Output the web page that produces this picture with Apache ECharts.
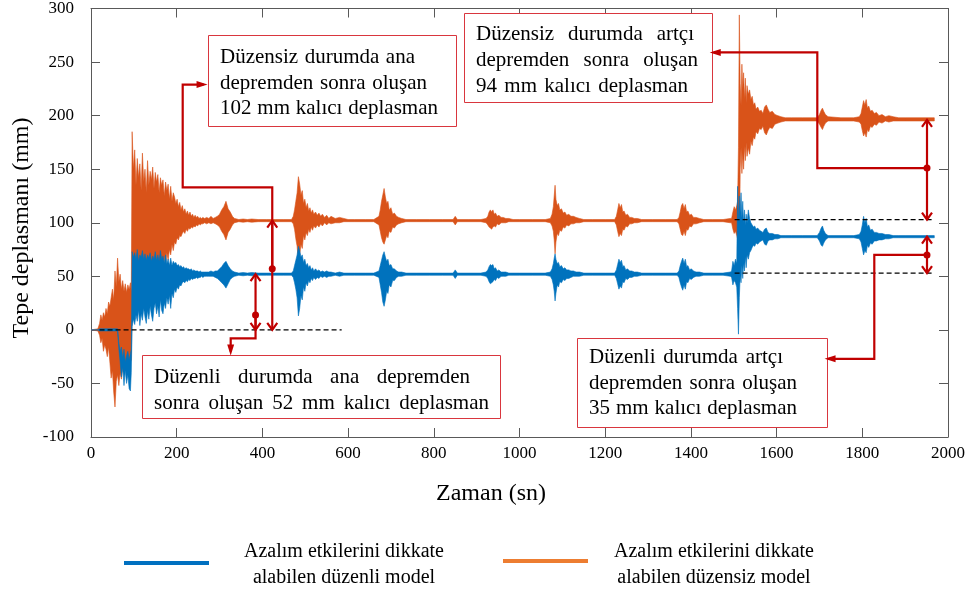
<!DOCTYPE html>
<html><head><meta charset="utf-8">
<script src="https://cdn.jsdelivr.net/npm/echarts/dist/echarts.min.js"></script>
<style>html,body{margin:0;padding:0;background:#fff}#c{width:968px;height:598px}</style>
</head><body><div id="c"></div>
<script>
// ---------- DATA (envelope of the oscillating records) ----------
const timeSec = [
  0,16,20,23,26,29,32,35,38,41, 44,47,50,53,56,59,62,65,68,71, 74,77,80,83,86,89,92,94,
  96,99,102,105,108,111,114,117,120,123,
  126,129,132,135,138,141,144,147,150,153,
  156,159,162,165,168,171,174,177,180,183,
  186,189,192,195,198,201,204,207,210,213,
  216,219,222,225,228,231,234,237,240,243,
  246,249,252,255,258,261,265,270,275,280,
  285,290,295,300,305,310,315,320,325,330,
  335,345,355,365,375,390,410,430,450,468,
  472,475,478,481,484,487,490,493,496,499,
  502,505,508,511,514,517,520,524,528,532,
  536,540,545,550,555,560,570,580,590,600,
  615,640,660,
  672,675,678,681,684,687,690,693,696,700, 704,708,713,718,725,735,
  760,790,820,845,850,855,880,910,922,
  926,929,932,935,938,941,944,948,952,957, 962,968,975,985,
  1000,1030,1060,1072,
  1076,1079,1081,1083,1085,1088,1091,1094,1098,1102, 1106,1110,1115,1120,1126,1132,1140,1150,
  1170,1200,1222,
  1226,1229,1232,1235,1238,1241,1244,1248,1252,1257, 1262,1268,1275,1285,
  1310,1340,1368,
  1372,1375,1378,1381,1384,1387,1390,1393,1397,1401, 1406,1412,1420,1430,
  1450,1475,1492,
  1495,1498,1501,1504,1507,1509,1511,1513,1515,1517,
  1519,1521,1523,1525,1527,1529,1531,1534,1537,1540,
  1543,1546,1549,1552,1556,1560,1564,1568,1572,1576,
  1580,1584,1590,1596,1603,1610,1620,1635,
  1660,1695,1700,1704,1707,1710,1714,1720,1750,1780,1793,
  1797,1800,1803,1806,1809,1812,1815,1819,1823,1828, 1833,1839,1846,1854,1862,1872,1885,1900,1930,1968
];
// irregular model (düzensiz) – upper / lower envelope, mm
const orangeHi = [
  0,1,6,14,9,16,12,20,15,26, 22,30,38,28,55,40,67,45,52,38, 46,36,43,35,42,38,44,36,
  185,150,168,135,160,142,155,130,165,138,
  150,128,158,135,148,140,152,132,147,138,
  145,128,142,135,140,125,138,130,136,122,
  134,120,128,124,118,122,115,119,112,116,
  110,113,108,111,107,110,106,108,105,107,
  105,106,104,105,104,105,104,105,104,106,
  104,105,106,108,112,115,120,113,110,106,
  104,103,103.5,103,103.5,103,103,103,103,103,
  106,112,120,128,143,136,126,130,118,122,
  114,118,111,114,109,112,108,110,107,109,
  106,108,105,107,104,106,104,105,104,103,
  103,103,103,
  106,112,120,126,132,124,118,120,112,114, 108,109,106,105,104,103,
  103,103,103,103,106,103,103,103,104,
  106,110,112,110,112,108,109,106,107,105, 105,104,104,103,
  103,103,103,104,
  108,115,125,135,122,116,118,112,113,109, 110,107,108,106,106,105,104,103,
  103,103,103,
  106,112,118,114,117,110,111,107,108,105, 105,104,104,103,
  103,103,103,
  105,110,116,118,113,117,110,111,107,108, 105,105,104,103,
  103,103,104,
  104,110,115,112,116,120,170,294,230,210,
  248,225,240,215,235,212,228,220,224,215,
  218,210,212,206,208,204,205,202,208,210,
  206,203,204,201,200,199,198,198,
  198,198,201,205,207,204,201,199,198,198,199,
  202,208,214,210,215,207,209,204,205,202, 203,200,201,199,200,199,198,198,198,198
];
const orangeLo = [
  0,-1,-5,-12,-8,-20,-14,-18,-25,-16, -30,-45,-38,-58,-72,-48,-42,-52,-40,-46, -35,-38,-30,-36,-32,-35,-30,-28,
  20,45,10,35,18,40,25,48,30,42,
  38,55,35,50,40,58,45,60,48,55,
  52,62,50,65,58,68,60,72,65,75,
  70,80,74,82,80,86,84,88,87,90,
  92,90,94,92,95,94,96,95,97,96,
  98,97,99,98,99,99,100,99,100,99,
  100,99,98,96,92,89,84,91,94,98,
  100,101,100.5,101,100.5,101,101,101,101,101,
  99,94,85,78,64,70,80,76,88,84,
  91,88,94,91,96,93,97,95,98,96,
  99,97,100,98,100,99,100,100,101,101,
  101,101,101,
  98,92,86,82,80,84,88,86,92,91, 96,95,98,99,100,101,
  101,101,101,101,98,101,101,101,100,
  98,96,95,94,96,97,96,99,98,100, 100,100,101,101,
  101,101,101,100,
  97,92,84,71,82,90,88,93,92,96, 95,98,97,99,99,100,100,101,
  101,101,101,
  98,92,87,90,88,94,93,97,96,99, 99,100,100,101,
  101,101,101,
  99,94,89,88,92,88,94,93,97,96, 99,99,100,101,
  101,101,100,
  100,94,90,92,88,85,60,45,150,170,
  146,165,150,172,158,175,162,170,164,176,
  172,180,178,185,183,188,187,190,184,182,
  186,189,188,192,193,194,195,195,
  195,195,192,189,187,190,193,195,195,195,194,
  192,186,181,184,180,187,185,190,189,192, 191,194,193,195,194,195,195,195,195,195
];
// regular model (düzenli) – upper / lower envelope, mm
const blueHi = [
  0,0,1,1,1,1,1,1,1,1, 1,1,1,1,1,1,1,-12,-20,-16, -26,-18,-30,-24,-20,-28,-22,-18,
  73,68,72,66,75,64,70,68,74,66,
  71,65,70,67,72,64,69,66,73,65,
  70,64,74,66,69,63,70,62,66,60,
  67,60,64,62,63,60,61,59,60,58,
  59,57,58,57,57,56,57,55,56,55,
  55,55,54,55,54,54,54,54,54,55,
  54,55,55,57,59,62,64,60,57,55,
  54,53,53.5,53,53.5,53,53,53,53,53,
  55,60,65,70,78,74,68,70,63,66,
  60,62,58,60,56,58,55,57,55,56,
  54,55,54,55,54,54,53,54,53,53,
  53,53,53,
  55,60,65,70,73,68,64,66,60,61, 57,57,55,54,54,53,
  53,53,53,53,56,53,53,53,54,
  56,59,61,60,61,57,58,55,56,54, 54,54,53,53,
  53,53,53,54,
  57,62,67,71,66,62,63,59,60,57, 58,56,56,55,55,54,54,53,
  53,53,53,
  56,61,66,63,65,59,60,56,57,55, 55,54,54,53,
  53,53,53,
  55,60,64,67,62,66,59,60,56,57, 55,54,54,53,
  53,53,54,
  55,64,60,66,62,134,100,125,110,128,
  105,120,100,112,98,108,100,112,104,100,
  98,96,97,94,95,93,92,91,94,95,
  91,90,90,89,89,88,88,88,
  88,88,91,95,97,93,90,88,88,88,89,
  92,98,106,100,104,96,98,93,94,91, 91,90,90,89,89,88,88,88,88,88
];
const blueLo = [
  0,0,-1,-1,-1,-1,-1,-1,-1,-1, -1,-1,-1,-1,-1,-1,-1,-18,-30,-44, -35,-52,-38,-50,-42,-55,-57,-40,
  3,10,5,14,8,18,4,15,9,20,
  12,6,18,10,22,14,8,20,25,15,
  22,12,28,18,15,25,20,30,24,32,
  20,34,30,38,35,40,38,42,41,44,
  45,44,46,45,47,46,48,47,48,48,
  49,48,49,49,50,49,50,50,50,50,
  50,49,48,46,44,42,39,43,47,49,
  50,51,50.5,51,50.5,51,51,51,51,51,
  49,44,38,30,13,20,32,28,40,36,
  44,41,46,44,48,46,49,47,49,48,
  50,49,50,49,50,50,51,50,51,51,
  51,51,51,
  49,42,35,26,22,28,36,34,42,40, 46,46,49,50,50,51,
  51,51,51,51,48,51,51,51,50,
  48,45,43,44,45,47,46,49,48,50, 50,50,51,51,
  51,51,51,50,
  47,42,36,27,34,42,40,45,44,47, 46,48,48,49,50,50,50,51,
  51,51,51,
  48,43,38,41,39,45,44,48,47,49, 49,50,50,51,
  51,51,51,
  49,44,40,37,42,38,45,44,48,47, 49,50,50,51,
  51,51,50,
  49,42,46,44,40,20,-4,30,50,44,
  60,48,62,55,68,58,70,66,72,74,
  77,79,78,81,80,82,83,84,80,79,
  83,84,84,85,85,86,86,86,
  86,86,83,79,78,81,84,86,86,86,85,
  82,76,70,74,72,79,77,81,80,83, 83,84,84,85,85,86,86,86,86,86
];
// dashed reference lines
const zeroRefT = [20, 585], zeroRefV = [0, 0];
const orangeRefT = [1502, 1968], orangeRefV = [103, 103];
const blueRefT = [1502, 1968], blueRefV = [53, 53];
const xTicks = {min: 0, max: 2000, step: 200};
const yTicks = {min: -100, max: 300, step: 50};

// ---------- CHART ----------
const FONT = '"Liberation Serif", "Times New Roman", serif';
const ORANGE = '#D95319', BLUE = '#0072BD', RED = '#C00000';
const chart = echarts.init(document.getElementById('c'), null, {renderer: 'canvas'});

function band(name, color, hi, lo) {
  return {
    type: 'custom', name: name, silent: true, animation: false,
    xAxisIndex: 0, yAxisIndex: 0,
    data: timeSec.map((t, i) => [t, hi[i], lo[i]]),
    encode: {x: 0, y: [1, 2]},
    renderItem: function (params, api) {
      if (params.dataIndex !== 0) return null;
      const pts = [];
      for (let i = 0; i < timeSec.length; i++) pts.push(api.coord([timeSec[i], hi[i]]));
      for (let i = timeSec.length - 1; i >= 0; i--) pts.push(api.coord([timeSec[i], lo[i]]));
      return {type: 'polygon', shape: {points: pts},
        style: {fill: color, stroke: color, lineWidth: 0.6, lineJoin: 'round'}};
    }
  };
}
function dashed(ts, vs) {
  return {type: 'line', xAxisIndex: 0, yAxisIndex: 0, symbol: 'none', silent: true, z: 5,
    data: ts.map((t, i) => [t, vs[i]]),
    lineStyle: {color: '#000', width: 1.3, type: [5, 3]}};
}
const axLine = {color: '#595959', width: 1};
function xAx(pos, lab) {
  return {type: 'value', position: pos, min: xTicks.min, max: xTicks.max, interval: xTicks.step,
    axisLine: {show: true, onZero: false, lineStyle: axLine},
    axisTick: {show: true, inside: true, length: 9, lineStyle: axLine},
    axisLabel: {show: lab, fontFamily: FONT, fontSize: 17, color: '#000', margin: 8,
      formatter: v => String(v)},
    splitLine: {show: false}};
}
function yAx(pos, lab) {
  return {type: 'value', position: pos, min: yTicks.min, max: yTicks.max, interval: yTicks.step,
    axisLine: {show: true, onZero: false, lineStyle: axLine},
    axisTick: {show: true, inside: true, length: 9, lineStyle: axLine},
    axisLabel: {show: lab, fontFamily: FONT, fontSize: 17, color: '#000', margin: 17,
      formatter: v => String(v)},
    splitLine: {show: false}};
}
chart.setOption({
  animation: false,
  backgroundColor: '#fff',
  grid: {left: 91, right: 17, top: 6, bottom: 161},
  xAxis: [xAx('bottom', true), xAx('top', false)],
  yAxis: [yAx('left', true), yAx('right', false)],
  series: [
    band('Azalım etkilerini dikkate alabilen düzensiz model', ORANGE, orangeHi, orangeLo),
    band('Azalım etkilerini dikkate alabilen düzenli model', BLUE, blueHi, blueLo),
    dashed(zeroRefT, zeroRefV), dashed(orangeRefT, orangeRefV), dashed(blueRefT, blueRefV)
  ]
});

// ---------- ANNOTATIONS ----------
const P = (t, v) => chart.convertToPixel({xAxisIndex: 0, yAxisIndex: 0}, [t, v]);
const g = [];
function poly(points) {
  g.push({type: 'polyline', z: 100, shape: {points: points},
    style: {stroke: RED, lineWidth: 2.2, fill: null, lineJoin: 'miter'}});
}
function doubleArrow(t, vTop, vBot, vDot) {
  const a = P(t, vTop), b = P(t, vBot), d = P(t, vDot);
  poly([a, b]);
  poly([[a[0] - 5, a[1] + 7], a, [a[0] + 5, a[1] + 7]]);
  poly([[b[0] - 5, b[1] - 7], b, [b[0] + 5, b[1] - 7]]);
  g.push({type: 'circle', z: 101, shape: {cx: d[0], cy: d[1], r: 3.5}, style: {fill: RED}});
}
function leader(pts) {
  const px = pts.map(p => P(p[0], p[1]));
  const e = px[px.length - 1], s = px[px.length - 2];
  const dx = e[0] - s[0], dy = e[1] - s[1], L = Math.hypot(dx, dy), ux = dx / L, uy = dy / L;
  const bx = e[0] - ux * 11, by = e[1] - uy * 11;
  px[px.length - 1] = [e[0] - ux * 4, e[1] - uy * 4];
  poly(px);
  g.push({type: 'polygon', z: 101,
    shape: {points: [e, [bx - uy * 3.5, by + ux * 3.5], [bx + uy * 3.5, by - ux * 3.5]]},
    style: {fill: RED}});
}
doubleArrow(423, 102, 0, 57);
leader([[423, 57], [423, 133], [214, 133], [214, 229], [272, 229]]);
doubleArrow(384, 52, 0, 14);
leader([[384, 14], [384, -8], [326, -8], [326, -24]]);
doubleArrow(1951, 196, 103, 151);
leader([[1951, 151], [1695, 151], [1695, 259], [1444, 259]]);
doubleArrow(1951, 87, 53, 70);
leader([[1951, 70], [1828, 70], [1828, -27], [1712, -27]]);

const BOXFONT = '21px ' + FONT;
const mctx = document.createElement('canvas').getContext('2d');
function justified(line, x, y, width) {
  mctx.font = BOXFONT;
  const words = line.split(' ');
  const ws = words.map(w => mctx.measureText(w).width);
  const total = ws.reduce((a, b) => a + b, 0);
  let gap = words.length > 1 ? (width - total) / (words.length - 1) : 0;
  if (gap < 5) gap = 5;
  let cx = x;
  words.forEach((w, i) => {
    g.push({type: 'text', z: 91, x: cx, y: y,
      style: {text: w, fill: '#000', font: BOXFONT, textVerticalAlign: 'middle', verticalAlign: 'middle'}});
    cx += ws[i] + gap;
  });
}
const boxes = [
  {x: 208, y: 35, w: 248, h: 91, tx: 220, tw: [195, 207, 218], ly: [57, 83, 108],
   lines: ['Düzensiz durumda ana', 'depremden sonra oluşan', '102 mm kalıcı deplasman']},
  {x: 142, y: 355, w: 358, h: 63, tx: 154, tw: [316, 335], ly: [377, 403],
   lines: ['Düzenli durumda ana depremden', 'sonra oluşan 52 mm kalıcı deplasman']},
  {x: 464, y: 13, w: 248, h: 89, tx: 476, tw: [218, 222, 212], ly: [34, 60, 86],
   lines: ['Düzensiz durumda artçı', 'depremden sonra oluşan', '94 mm kalıcı deplasman']},
  {x: 577, y: 338, w: 250, h: 89, tx: 589, tw: [194, 208, 208], ly: [357, 383, 408],
   lines: ['Düzenli durumda artçı', 'depremden sonra oluşan', '35 mm kalıcı deplasman']}
];
boxes.forEach(b => {
  g.push({type: 'rect', z: 90, shape: {x: b.x + 0.5, y: b.y + 0.5, width: b.w, height: b.h},
    style: {fill: '#fff', stroke: '#D9363E', lineWidth: 1}});
  b.lines.forEach((s, i) => justified(s, b.tx, b.ly[i], b.tw[i]));
});
// axis titles
g.push({type: 'text', z: 50, x: 22, y: 228, rotation: Math.PI / 2,
  style: {text: 'Tepe deplasmanı (mm)', fill: '#000', font: '24px ' + FONT,
    textAlign: 'center', align: 'center', textVerticalAlign: 'middle', verticalAlign: 'middle'}});
g.push({type: 'text', z: 50, x: 491, y: 494,
  style: {text: 'Zaman (sn)', fill: '#000', font: '24px ' + FONT,
    textAlign: 'center', align: 'center', textVerticalAlign: 'middle', verticalAlign: 'middle'}});
// legend
g.push({type: 'line', z: 50, shape: {x1: 124, y1: 563, x2: 209, y2: 563}, style: {stroke: '#0070C0', lineWidth: 4}});
g.push({type: 'line', z: 50, shape: {x1: 503, y1: 561, x2: 588, y2: 561}, style: {stroke: '#ED7D31', lineWidth: 4}});
[[344, ['Azalım etkilerini dikkate', 'alabilen düzenli model']],
 [714, ['Azalım etkilerini dikkate', 'alabilen düzensiz model']]].forEach(([cx, ls]) => {
  ls.forEach((s, i) => g.push({type: 'text', z: 50, x: cx, y: 552 + i * 26,
    style: {text: s, fill: '#000', font: '20px ' + FONT,
      textAlign: 'center', align: 'center', textVerticalAlign: 'middle', verticalAlign: 'middle'}}));
});
chart.setOption({graphic: {elements: g}});
</script>
</body></html>
